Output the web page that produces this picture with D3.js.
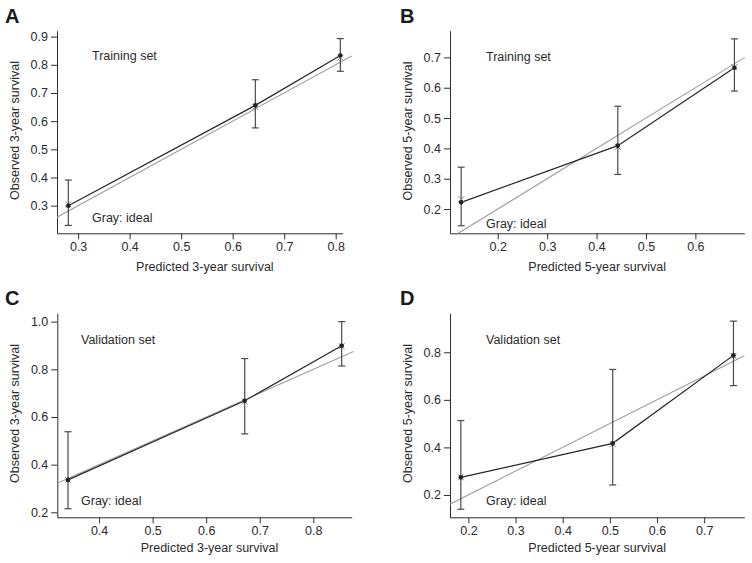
<!DOCTYPE html>
<html>
<head>
<meta charset="utf-8">
<script src="https://cdn.jsdelivr.net/npm/d3@7/dist/d3.min.js"></script>
<style>
  html, body { margin: 0; padding: 0; background: #fff; }
  svg { display: block; }
  text { font-family: "Liberation Sans", Arial, Helvetica, sans-serif; fill: #2b2b2b; }
  .letter { font-family: "Liberation Sans Narrow", "Liberation Sans", Arial, sans-serif; font-weight: bold; font-size: 20px; fill: #1a1a1a; }
</style>
</head>
<body>
<svg id="chart" width="752" height="563"></svg>
<script>
// ---------- data ----------
const panelLetters = ["A", "B", "C", "D"];
const setLabels = ["Training set", "Training set", "Validation set", "Validation set"];
const idealLabel = "Gray: ideal";
const xTitles = ["Predicted 3-year survival", "Predicted 5-year survival", "Predicted 3-year survival", "Predicted 5-year survival"];
const yTitles = ["Observed 3-year survival", "Observed 5-year survival", "Observed 3-year survival", "Observed 5-year survival"];

// predicted (x), observed (y), CI low/high, bias-corrected (x marks)
const predA = [0.281, 0.644, 0.809];
const obsA  = [0.300, 0.656, 0.833];
const loA   = [0.230, 0.576, 0.777];
const hiA   = [0.391, 0.747, 0.893];
const corrA = [0.305, 0.650, 0.825];

const predB = [0.126, 0.443, 0.679];
const obsB  = [0.222, 0.409, 0.666];
const loB   = [0.145, 0.314, 0.589];
const hiB   = [0.338, 0.539, 0.761];
const corrB = [0.232, 0.405, 0.668];

const predC = [0.342, 0.672, 0.853];
const obsC  = [0.336, 0.668, 0.899];
const loC   = [0.215, 0.529, 0.814];
const hiC   = [0.538, 0.845, 1.000];
const corrC = [0.336, 0.665, 0.897];

const predD = [0.184, 0.506, 0.762];
const obsD  = [0.274, 0.417, 0.787];
const loD   = [0.140, 0.242, 0.660];
const hiD   = [0.513, 0.728, 0.931];
const corrD = [0.274, 0.414, 0.785];

// axis ticks
const xTicksA = [0.3, 0.4, 0.5, 0.6, 0.7, 0.8];
const yTicksA = [0.3, 0.4, 0.5, 0.6, 0.7, 0.8, 0.9];
const xTicksB = [0.2, 0.3, 0.4, 0.5, 0.6];
const yTicksB = [0.2, 0.3, 0.4, 0.5, 0.6, 0.7];
const xTicksC = [0.4, 0.5, 0.6, 0.7, 0.8];
const yTicksC = [0.2, 0.4, 0.6, 0.8, 1.0];
const xTicksD = [0.2, 0.3, 0.4, 0.5, 0.6, 0.7];
const yTicksD = [0.2, 0.4, 0.6, 0.8];

// axis domains and ideal-line extent
const xDomains = [[0.259, 0.8136], [0.1034, 0.699], [0.322, 0.8717], [0.161, 0.785]];
const yDomains = [[0.202, 0.921], [0.120, 0.788], [0.179, 1.035], [0.106, 0.964]];
const idealRanges = [[0.259, 0.831], [0.120, 0.700], [0.322, 0.875], [0.161, 0.785]];

// ---------- layout (pixels) ----------
const boxes = [
  {left: 57,  right: 342.7, top: 30.7,  bottom: 233.3, letterX: 5,   letterY: 23,  noteX: 92,  setY: 60,  idealY: 222, xtY: 270.5, ytX: 19,  ytY: 130.5},
  {left: 450, right: 744.3, top: 30.7,  bottom: 233.3, letterX: 400, letterY: 23,  noteX: 486, setY: 60.5, idealY: 228, xtY: 270.5, ytX: 412, ytY: 131},
  {left: 57.3,right: 351.7, top: 313.3, bottom: 517.3, letterX: 5,   letterY: 305, noteX: 81,  setY: 344, idealY: 505, xtY: 552, ytX: 19,  ytY: 413.5},
  {left: 450, right: 744.3, top: 313.3, bottom: 517.3, letterX: 400, letterY: 305, noteX: 486, setY: 344, idealY: 505, xtY: 552, ytX: 412, ytY: 413.5}
];

const series = [
  {pred: predA, obs: obsA, lo: loA, hi: hiA, corr: corrA, xt: xTicksA, yt: yTicksA},
  {pred: predB, obs: obsB, lo: loB, hi: hiB, corr: corrB, xt: xTicksB, yt: yTicksB},
  {pred: predC, obs: obsC, lo: loC, hi: hiC, corr: corrC, xt: xTicksC, yt: yTicksC},
  {pred: predD, obs: obsD, lo: loD, hi: hiD, corr: corrD, xt: xTicksD, yt: yTicksD}
];

const svg = d3.select("#chart");
const fmt = d3.format(".1f");
const axisColor = "#2e2e2e";

series.forEach((s, i) => {
  const b = boxes[i];
  const x = d3.scaleLinear().domain(xDomains[i]).range([b.left, b.right]);
  const y = d3.scaleLinear().domain(yDomains[i]).range([b.bottom, b.top]);
  const g = svg.append("g");

  // clip region (slightly wider than axes, like the plot region)
  const clipId = "clip" + i;
  svg.append("clipPath").attr("id", clipId).append("rect")
    .attr("x", b.left).attr("y", b.top - 4).attr("width", b.right - b.left + 12).attr("height", b.bottom - b.top + 4);

  // axes
  const xAxis = d3.axisBottom(x).tickValues(s.xt).tickFormat(fmt).tickSizeInner(6).tickSizeOuter(0).tickPadding(3);
  const yAxis = d3.axisLeft(y).tickValues(s.yt).tickFormat(fmt).tickSizeInner(6).tickSizeOuter(0).tickPadding(3);
  const gx = g.append("g").attr("transform", `translate(0,${b.bottom})`).call(xAxis);
  const gy = g.append("g").attr("transform", `translate(${b.left},0)`).call(yAxis);
  [gx, gy].forEach(a => {
    a.selectAll("path.domain").attr("stroke", axisColor).attr("stroke-width", 1);
    a.selectAll(".tick line").attr("stroke", axisColor).attr("stroke-width", 1);
    a.selectAll(".tick text").attr("fill", "#2b2b2b").style("font-size", "12.5px")
      .style("font-family", '"Liberation Sans", Arial, sans-serif');
  });

  // ideal line
  const ir = idealRanges[i];
  g.append("line")
    .attr("clip-path", `url(#${clipId})`)
    .attr("x1", x(ir[0])).attr("y1", y(ir[0]))
    .attr("x2", x(ir[1])).attr("y2", y(ir[1]))
    .attr("stroke", "#a0a0a0").attr("stroke-width", 1.1);

  const pts = s.pred.map((p, k) => ({p, o: s.obs[k], lo: s.lo[k], hi: s.hi[k], c: s.corr[k]}));

  // error bars
  const eb = g.append("g").attr("stroke", "#4a4a4a").attr("stroke-width", 1.2).attr("fill", "none");
  pts.forEach(d => {
    eb.append("line").attr("x1", x(d.p)).attr("x2", x(d.p)).attr("y1", y(d.lo)).attr("y2", y(d.hi));
    eb.append("line").attr("x1", x(d.p) - 3.5).attr("x2", x(d.p) + 3.5).attr("y1", y(d.lo)).attr("y2", y(d.lo));
    eb.append("line").attr("x1", x(d.p) - 3.5).attr("x2", x(d.p) + 3.5).attr("y1", y(d.hi)).attr("y2", y(d.hi));
  });

  // fitted line
  const line = d3.line().x(d => x(d.p)).y(d => y(d.o));
  g.append("path").datum(pts).attr("d", line)
    .attr("fill", "none").attr("stroke", "#262626").attr("stroke-width", 1.2);

  // x marks (bias-corrected)
  pts.forEach(d => {
    const cx = x(d.p), cy = y(d.c), r = 3;
    g.append("path")
      .attr("d", `M${cx - r},${cy - r}L${cx + r},${cy + r}M${cx - r},${cy + r}L${cx + r},${cy - r}`)
      .attr("stroke", "#8a8a8a").attr("stroke-width", 1);
  });
  // dots
  g.selectAll("circle.pt").data(pts).enter().append("circle")
    .attr("cx", d => x(d.p)).attr("cy", d => y(d.o)).attr("r", 2.3)
    .attr("fill", "#222");

  // annotations
  g.append("text").attr("x", b.noteX).attr("y", b.setY).style("font-size", "12.5px").text(setLabels[i]);
  g.append("text").attr("x", b.noteX).attr("y", b.idealY).style("font-size", "12.5px").text(idealLabel);

  // axis titles
  g.append("text").attr("x", (b.left + b.right) / 2 + (i % 2 === 0 ? 5 : 0)).attr("y", b.xtY)
    .attr("text-anchor", "middle").style("font-size", "12.5px").text(xTitles[i]);
  g.append("text").attr("transform", `translate(${b.ytX},${b.ytY}) rotate(-90)`)
    .attr("text-anchor", "middle").style("font-size", "12.5px").text(yTitles[i]);

  // panel letter
  g.append("text").attr("class", "letter").attr("x", b.letterX).attr("y", b.letterY).text(panelLetters[i]);
});
</script>
</body>
</html>
